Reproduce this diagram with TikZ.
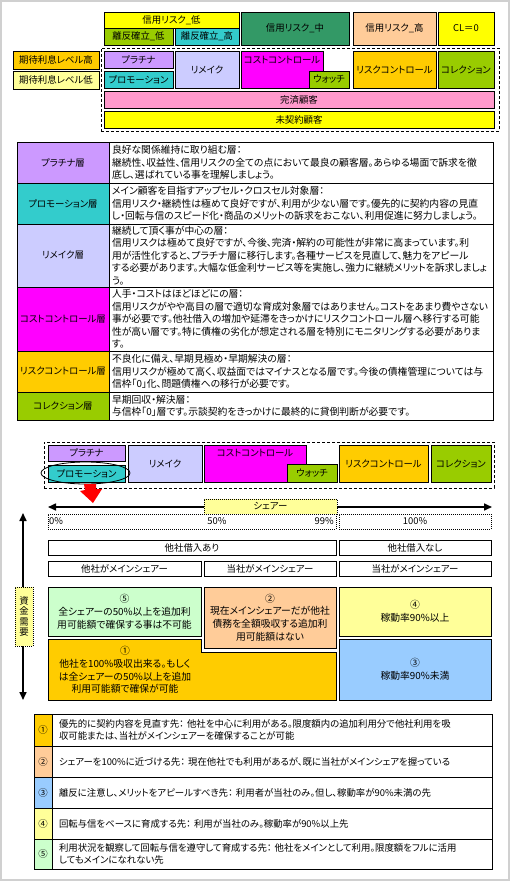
\documentclass[tikz,border=0pt]{standalone}
\usepackage{fontspec}
\setmainfont{Noto Sans CJK JP}[RawFeature=+palt]
\usetikzlibrary{arrows.meta,shapes.geometric}
\definecolor{cY}{HTML}{FFFF00}
\definecolor{cLG}{HTML}{99CC00}
\definecolor{cTeal}{HTML}{33CCCC}
\definecolor{cDG}{HTML}{339966}
\definecolor{cPeach}{HTML}{FFCC99}
\definecolor{cOr}{HTML}{FFCC00}
\definecolor{cLY}{HTML}{FFFF99}
\definecolor{cPur}{HTML}{CC99FF}
\definecolor{cLav}{HTML}{CCCCFF}
\definecolor{cMag}{HTML}{FF00FF}
\definecolor{cPink}{HTML}{FF99CC}
\definecolor{cMint}{HTML}{CCFFCC}
\definecolor{cLB}{HTML}{99CCFF}
\definecolor{cFrame}{HTML}{D0D0D0}
\newcommand\mybox[7][]{\node[box,#1,minimum width={#5pt-#3pt},minimum height={#6pt-#4pt}] (#2) at ({(#3+#5)/2},{(#4+#6)/2}) {#7};}
\begin{document}
\begin{tikzpicture}[x=1pt,y=-1pt,
  font=\fontsize{9.4pt}{12.5pt}\selectfont,
  box/.style={draw=black,line width=0.8pt,inner sep=0pt,outer sep=0pt},
  dashbox/.style={dash pattern=on 3pt off 2pt},
  dotbox/.style={dash pattern=on 1pt off 1pt},
  desc/.style={fill=white,text width=378pt,align=left,font=\fontsize{9.8pt}{12.5pt}\selectfont},
  desc2/.style={fill=white,text width=426pt,align=left},
  quad/.style={align=center,font=\fontsize{9.8pt}{12.8pt}\selectfont},
  arr/.style={line width=1.6pt,{Triangle[length=8pt,width=7pt]}-{Triangle[length=8pt,width=7pt]}}]
\useasboundingbox (0,0) rectangle (510,881);
\fill[white] (0,0) rectangle (510,881);
\draw[cFrame,line width=2pt] (1,1) rectangle (509,880);
% ---------- top section ----------
\mybox[fill=cY]{crLow}{104}{12}{239}{28}{信用リスク\_低}
\mybox[fill=cLG]{riLow}{104}{28}{173}{45}{離反確立\_低}
\mybox[fill=cTeal]{riHigh}{175}{28}{239}{45}{離反確立\_高}
\mybox[fill=cDG]{crMid}{241}{12}{349}{45}{信用リスク\_中}
\mybox[fill=cPeach]{crHigh}{353}{12}{436}{45}{信用リスク\_高}
\mybox[fill=cY]{clZero}{438}{12}{494}{45}{CL＝0}
\mybox[dashbox]{frameA}{101}{48}{499}{131}{}
\mybox[fill=cOr]{kHigh}{13}{51}{99}{69}{期待利息レベル高}
\mybox[fill=cLY]{kLow}{13}{71}{99}{89}{期待利息レベル低}
\mybox[fill=cPur]{plaA}{104}{51}{173}{68}{プラチナ}
\mybox[fill=cTeal]{proA}{104}{71}{173}{88}{プロモーション}
\mybox[fill=cLav]{remA}{175}{51}{239}{88}{リメイク}
\mybox[fill=cMag]{costA}{241}{51}{323}{88}{}
\node (costAt) at (282,60) {コストコントロール};
\mybox[fill=cLG]{watchA}{309}{71}{349}{88}{ウォッチ}
\mybox[fill=cOr]{rcA}{353}{51}{436}{88}{リスクコントロール}
\mybox[fill=cLG]{colA}{438}{51}{494}{88}{コレクション}
\mybox[fill=cPink]{kan}{104}{91}{494}{108}{完済顧客}
\mybox[fill=cY]{mik}{104}{111}{494}{128}{未契約顧客}
% ---------- table 1 ----------
\mybox[fill=cPur]{tAa}{17}{142}{109}{183}{プラチナ層}
\mybox[desc]{tAb}{109}{142}{493}{183}{良好な関係維持に取り組む層：\\継続性、収益性、信用リスクの全ての点において最良の顧客層。あらゆる場面で訴求を徹\\底し、選ばれている事を理解しましょう。}
\mybox[fill=cTeal]{tBa}{17}{183}{109}{224}{プロモーション層}
\mybox[desc]{tBb}{109}{183}{493}{224}{メイン顧客を目指すアップセル・クロスセル対象層：\\信用リスク・継続性は極めて良好ですが、利用が少ない層です。優先的に契約内容の見直\\し・回転与信のスピード化・商品のメリットの訴求をおこない、利用促進に努力しましょう。}
\mybox[fill=cLav]{tCa}{17}{224}{109}{287}{リメイク層}
\mybox[desc]{tCb}{109}{224}{493}{287}{継続して頂く事が中心の層：\\信用リスクは極めて良好ですが、今後、完済・解約の可能性が非常に高まっています。利\\用が活性化すると、プラチナ層に移行します。各種サービスを見直して、魅力をアピール\\する必要があります。大幅な低金利サービス等を実施し、強力に継続メリットを訴求しましょ\\う。}
\mybox[fill=cMag]{tDa}{17}{287}{109}{351}{コストコントロール層}
\mybox[desc]{tDb}{109}{287}{493}{351}{人手・コストはほどほどにの層：\\信用リスクがやや高目の層で適切な育成対象層ではありません。コストをあまり費やさない\\事が必要です。他社借入の増加や延滞をきっかけにリスクコントロール層へ移行する可能\\性が高い層です。特に債権の劣化が想定される層を特別にモニタリングする必要がありま\\す。}
\mybox[fill=cOr]{tEa}{17}{351}{109}{392}{リスクコントロール層}
\mybox[desc]{tEb}{109}{351}{493}{392}{不良化に備え、早期見極め・早期解決の層：\\信用リスクが極めて高く、収益面ではマイナスとなる層です。今後の債権管理については与\\信枠「0」化、問題債権への移行が必要です。}
\mybox[fill=cLG]{tFa}{17}{392}{109}{420}{コレクション層}
\mybox[desc]{tFb}{109}{392}{493}{420}{早期回収・解決層：\\与信枠「0」層です。示談契約をきっかけに最終的に貸倒判断が必要です。}
% ---------- section 3 ----------
\mybox[dashbox]{frameB}{44}{442}{494}{488}{}
\mybox[fill=cPur]{plaB}{48}{445}{125}{461}{プラチナ}
\mybox[fill=cTeal]{proB}{48}{465}{125}{482}{プロモーション}
\mybox[fill=cLav]{remB}{128}{445}{202}{482}{リメイク}
\mybox[fill=cMag]{costB}{204}{445}{306}{482}{}
\node (costBt) at (255,453) {コストコントロール};
\mybox[fill=cLG]{watchB}{287}{464}{337}{482}{ウォッチ}
\mybox[fill=cOr]{rcB}{339}{445}{428}{482}{リスクコントロール}
\mybox[fill=cLG]{colB}{431}{445}{491}{482}{コレクション}
\node[draw=black,line width=0.8pt,ellipse,inner sep=0pt,minimum width=89pt,minimum height=22pt] (ell) at (85.5,473) {};
\fill[red] (84,484) -- (96,484) -- (96,489) -- (102,489) -- (93,503) -- (80,491) -- (85,490) -- cycle;
% share arrow
\coordinate (sL) at (48,507);
\coordinate (sR) at (492,507);
\draw[arr] (sL) -- (sR);
\mybox[fill=cLY,dotbox]{share}{204}{499}{337}{514}{シェアー}
\mybox[dotbox]{pctA}{48}{514}{336}{529}{}
\mybox[dotbox]{pctB}{339}{514}{491}{529}{}
\node[anchor=west,inner sep=0pt] (p0) at (49,521.5) {0\%};
\node[inner sep=0pt] (p50) at (217,521.5) {50\%};
\node[anchor=east,inner sep=0pt] (p99) at (334,521.5) {99\%};
\node[inner sep=0pt] (p100) at (415,521.5) {100\%};
% vertical arrow
\coordinate (vT) at (23,513);
\coordinate (vB) at (23,700);
\draw[arr] (vT) -- (vB);
\mybox[fill=cLY,dotbox,align=center,font=\fontsize{9.4pt}{10.6pt}\selectfont]{need}{15}{587}{33}{646}{資\\金\\需\\要}
% headers
\mybox{hA}{48}{540}{336}{555}{他社借入あり}
\mybox{hB}{339}{540}{491}{555}{他社借入なし}
\mybox{sA}{48}{561}{201}{576}{他社がメインシェアー}
\mybox{sB}{204}{561}{336}{576}{当社がメインシェアー}
\mybox{sC}{339}{561}{491}{576}{当社がメインシェアー}
% quadrant boxes
\mybox[fill=cMint,quad]{q5}{48}{587}{201}{636}{⑤\\全シェアーの50\%以上を追加利\\用可能額で確保する事は不可能}
\mybox[fill=cPeach,quad]{q2}{204}{587}{336}{648}{②\\現在メインシェアーだが他社\\債務を全額吸収する追加利\\用可能額はない}
\mybox[fill=cLY,quad]{q4}{339}{587}{491}{636}{④\\稼動率90\%以上}
\draw[box,fill=cOr] (48,639) -- (201,639) -- (201,652) -- (336,652) -- (336,700) -- (48,700) -- cycle;
\node[quad] (q1) at (125,670) {①\\他社を100\%吸収出来る。もしく\\は全シェアーの50\%以上を追加\\利用可能額で確保が可能};
\mybox[fill=cLB,quad]{q3}{339}{639}{491}{700}{③\\稼動率90\%未満}
% ---------- bottom table ----------
\mybox[fill=cOr]{bAa}{34}{714}{52}{746}{①}
\mybox[desc2]{bAb}{52}{714}{492}{746}{優先的に契約内容を見直す先： 他社を中心に利用がある。限度額内の追加利用分で他社利用を吸\\収可能または、当社がメインシェアーを確保することが可能}
\mybox[fill=cPeach]{bBa}{34}{746}{52}{777}{②}
\mybox[desc2]{bBb}{52}{746}{492}{777}{シェアーを100\%に近づける先： 現在他社でも利用があるが、既に当社がメインシェアを握っている}
\mybox[fill=cLB]{bCa}{34}{777}{52}{808}{③}
\mybox[desc2]{bCb}{52}{777}{492}{808}{離反に注意し、メリットをアピールすべき先： 利用者が当社のみ。但し、稼動率が90\%未満の先}
\mybox[fill=cLY]{bDa}{34}{808}{52}{839}{④}
\mybox[desc2]{bDb}{52}{808}{492}{839}{回転与信をベースに育成する先： 利用が当社のみ。稼動率が90\%以上先}
\mybox[fill=cMint]{bEa}{34}{839}{52}{869}{⑤}
\mybox[desc2]{bEb}{52}{839}{492}{869}{利用状況を観察して回転与信を遵守して育成する先： 他社をメインとして利用。限度額をフルに活用\\してもメインになれない先}
\end{tikzpicture}
\end{document}
